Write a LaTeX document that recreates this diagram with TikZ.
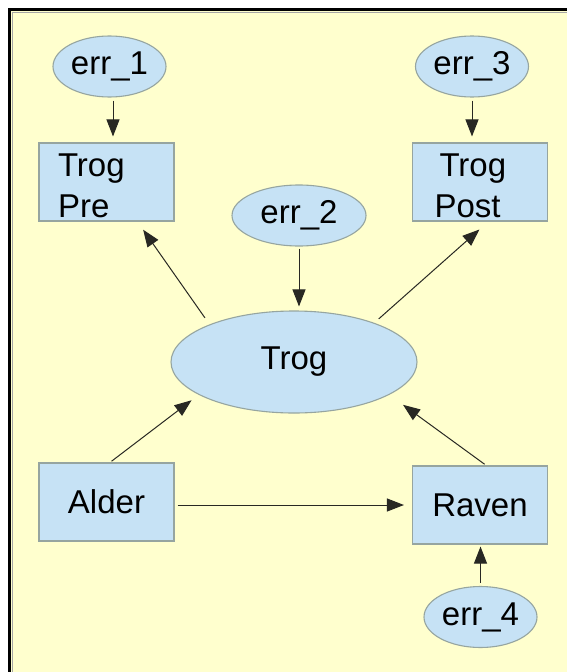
\documentclass[tikz,border=0pt]{standalone}
\usepackage{fontspec}
\setmainfont{Liberation Sans}
\usetikzlibrary{shapes.geometric,arrows.meta,calc}
\definecolor{bgyellow}{RGB}{255,255,206}
\definecolor{nodeblue}{RGB}{198,226,245}
\definecolor{nodeborder}{RGB}{150,165,160}
\definecolor{linecol}{RGB}{40,40,35}
\tikzset{
  base/.style={fill=nodeblue, draw=nodeborder, line width=1.1pt, font=\fontsize{33}{41}\selectfont},
  errnode/.style={base, ellipse, inner sep=0pt, minimum width=113pt, minimum height=61pt},
  varbox/.style={base, rectangle, inner sep=0pt, minimum width=135pt, minimum height=78pt},
  arr/.style={draw=linecol, line width=1pt, -{Triangle[length=17pt,width=13pt]}}
}
\begin{document}
\begin{tikzpicture}[x=1pt,y=-1pt]
\useasboundingbox (0,0) rectangle (567,672);
\fill[white] (0,0) rectangle (567,672);
\fill[bgyellow] (8,8) rectangle (567,672);
\draw[black, line width=3pt] (9.5,672) -- (9.5,9.5) -- (567,9.5);
\draw[black!35, line width=1pt] (12.5,672) -- (12.5,12.5) -- (567,12.5);

\node[errnode] (err1) at (109.5,66.5) {err\_1};
\node[errnode] (err3) at (472,66.5) {err\_3};
\node[errnode, minimum width=134pt] (err2) at (299,215.5) {err\_2};
\node[errnode] (err4) at (480.5,617) {err\_4};

\node[varbox, align=left, text width=97pt, inner xsep=19pt] (tpre) at (106.5,182) {\rule{0pt}{29.6pt}Trog\\Pre};
\node[varbox, align=left, text width=91pt, inner xsep=22pt] (tpost) at (480,182) {\rule{0pt}{29.6pt}\hspace*{5pt}Trog\\Post};

\node[base, ellipse, inner sep=0pt, minimum width=246pt, minimum height=102pt] (trog) at (294,362) {Trog};

\node[varbox] (alder) at (106.5,502) {Alder};
\node[varbox] (raven) at (480,505) {Raven};

\draw[arr, shorten <=3pt, shorten >=6pt] ([xshift=3.5pt]err1.south) -- ([xshift=3.5pt]err1.south |- tpre.north);
\draw[arr, shorten <=3pt, shorten >=6pt] (err3.south) -- (err3.south |- tpost.north);
\draw[arr, shorten <=2pt, shorten >=4pt] (err2.south) -- (err2.south |- trog.north);
\draw[arr, shorten <=3pt, shorten >=2pt] (err4.north) -- (err4.north |- raven.south);

\draw[arr, shorten <=8pt, shorten >=10pt] (trog.156) -- (tpre.-52);
\draw[arr, shorten <=6pt, shorten >=12pt] (trog.26.5) -- (tpost.-78);
\draw[arr, shorten <=2pt, shorten >=9pt] (alder.85) -- (trog.199);
\draw[arr, shorten <=2pt, shorten >=17pt] (raven.81) -- (trog.-19.4);
\draw[arr, shorten <=3pt, shorten >=8pt] (alder.east |- raven.west) -- (raven.west);
\end{tikzpicture}
\end{document}
